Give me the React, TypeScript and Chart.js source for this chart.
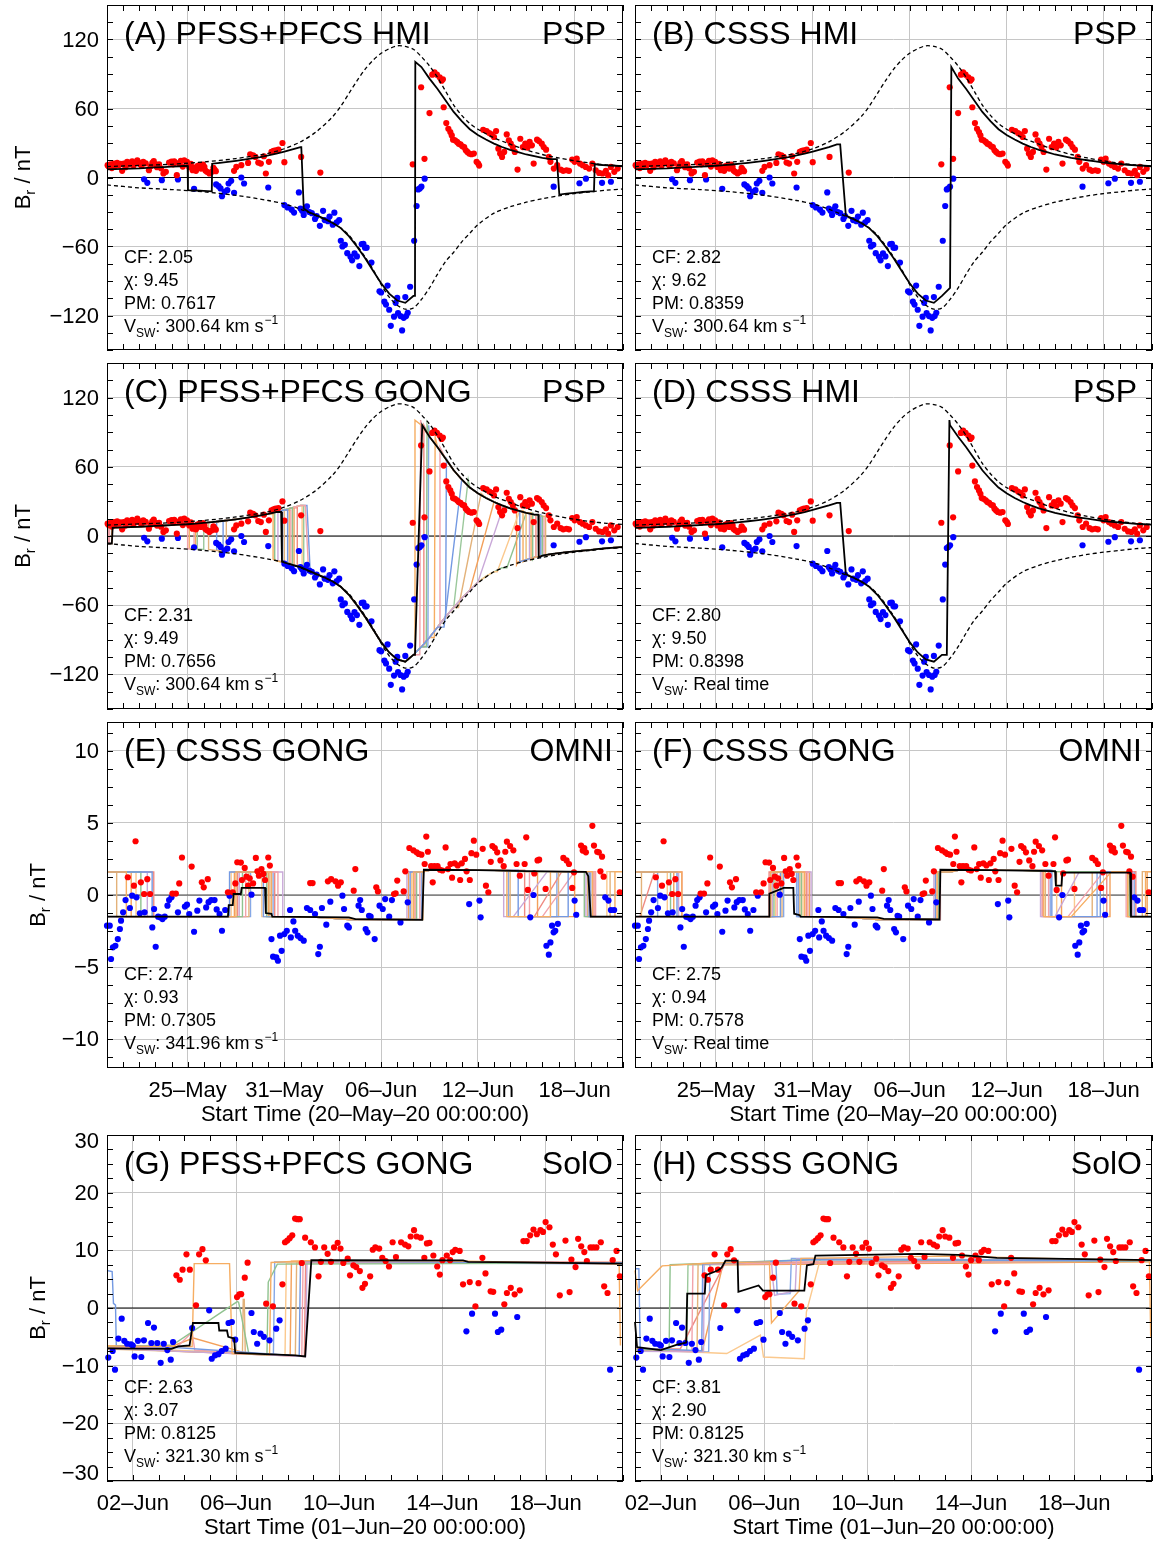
import React, { useEffect, useRef } from "react";
import { Chart, registerables } from "chart.js";

Chart.register(...registerables);

const FONT = "'Liberation Sans', Arial, Helvetica, sans-serif";
const GRID = "#c6c6c6";

// ---------------- axis ticks / labels ----------------
const PSP_X_MAJOR = [5, 11, 17, 23, 29];
const PSP_X_LABELS = ["25–May", "31–May", "06–Jun", "12–Jun", "18–Jun"];
const PSP_X_TITLE = "Start Time (20–May–20 00:00:00)";
const PSP_Y_TICKS = [-120, -60, 0, 60, 120];
const PSP_Y_LABELS = ["−120", "−60", "0", "60", "120"];
const OMNI_Y_TICKS = [-10, -5, 0, 5, 10];
const OMNI_Y_LABELS = ["−10", "−5", "0", "5", "10"];
const SOLO_X_MAJOR = [1, 5, 9, 13, 17];
const SOLO_X_LABELS = ["02–Jun", "06–Jun", "10–Jun", "14–Jun", "18–Jun"];
const SOLO_X_TITLE = "Start Time (01–Jun–20 00:00:00)";
const SOLO_Y_TICKS = [-30, -20, -10, 0, 10, 20, 30];
const SOLO_Y_LABELS = ["−30", "−20", "−10", "0", "10", "20", "30"];

// ---------------- panel texts ----------------
const TITLES = ["(A) PFSS+PFCS HMI", "(B) CSSS HMI", "(C) PFSS+PFCS GONG", "(D) CSSS HMI", "(E) CSSS GONG", "(F) CSSS GONG", "(G) PFSS+PFCS GONG", "(H) CSSS GONG"];
const PROBES = ["PSP", "PSP", "PSP", "PSP", "OMNI", "OMNI", "SolO", "SolO"];
const STATS_CF = ["2.05", "2.82", "2.31", "2.80", "2.74", "2.75", "2.63", "3.81"];
const STATS_CHI = ["9.45", "9.62", "9.49", "9.50", "0.93", "0.94", "3.07", "2.90"];
const STATS_PM = ["0.7617", "0.8359", "0.7656", "0.8398", "0.7305", "0.7578", "0.8125", "0.8125"];
const STATS_VSW = ["300.64", "300.64", "300.64", "Real time", "341.96", "Real time", "321.30", "321.30"];

// ---------------- PSP (panels A-D) ----------------
const PSP_ENV_DAYS = [0, 2, 4, 6, 8, 10, 11, 12, 13, 14, 14.5, 15, 15.5, 16, 16.5, 17, 17.5, 18, 18.5, 19, 19.5, 20, 20.5, 21, 21.5, 22, 22.5, 23, 24, 25, 26, 27, 28, 29, 30, 31, 32];
const PSP_ENV_UP = [9.5, 10.5, 11.5, 13.5, 16.5, 21, 25, 31, 40, 53, 62, 73, 84, 94, 102, 108, 112, 114.5, 114, 111.5, 105, 97, 87, 75, 63, 54, 47, 42, 34.5, 29, 24, 20, 17, 14.5, 12.5, 11, 10];
const PSP_ENV_DN = [-6.5, -9, -10.5, -12.5, -15.5, -20, -23, -27.5, -33.5, -39.5, -44, -50, -59, -69, -80, -93, -104, -111, -114.5, -113.5, -106, -96, -84, -73, -65, -56, -48.5, -41, -31, -25.5, -21.5, -18.5, -16, -14, -12.5, -11, -10];

const PSP_MODEL_DAYS = [0, 0.5, 1, 1.5, 2, 2.5, 3, 3.5, 4, 4.5, 5, 5.5, 6, 6.5, 7, 7.5, 8, 8.5, 9, 9.5, 10, 10.5, 11, 11.5, 12, 12.5, 13, 13.5, 14, 14.5, 15, 15.5, 16, 16.5, 17, 17.5, 18, 18.5, 19, 19.5, 20, 20.5, 21, 21.5, 22, 22.5, 23, 23.5, 24, 24.5, 25, 25.5, 26, 26.5, 27, 27.5, 28, 28.5, 29, 29.5, 30, 30.5, 31, 31.5, 32];
const PSP_MODEL_POS = [7, 7.2, 7.5, 7.8, 8, 8.4, 8.8, 9.1, 9.5, 9.8, 10.2, 10.7, 11.3, 12, 12.8, 13.6, 14.5, 15.5, 16.6, 17.8, 19.2, 20.8, 22.6, 24.5, 26.5, 28.8, 31.5, 35, 40, 46, 53, 61, 70, 79, 87, 94, 99, 101, 100.5, 96, 86, 77, 67, 57, 49, 42, 37, 33, 29.5, 26.5, 24, 22, 20, 18.5, 17, 16, 15, 14, 13, 12.3, 11.7, 11.1, 10.6, 10.2, 9.8];
const PSP_MODEL_NEG = [-6.5, -7, -7.5, -8, -8.5, -9, -9.5, -10, -10.3, -10.6, -11, -11.3, -11.6, -12, -13, -14, -15, -16, -17, -18.5, -20, -21.5, -23, -25, -27, -30, -33, -36, -39.5, -44, -51, -60, -70, -81, -92, -101, -107, -109, -103, -96, -88, -79, -70, -62, -54, -47, -40, -35, -31, -27.5, -25, -22.5, -20.5, -18.5, -17, -15.8, -14.8, -14, -13.3, -12.6, -12, -11.2, -10.6, -10, -9.5];

// polarity switches: [startDay, endDay, newSign]
const BLACK_A_START = 1;
const BLACK_A_SW = [[5.0, 5.02, -1], [6.5, 6.52, 1], [12.05, 12.2, -1], [19.1, 19.12, 1], [27.9, 28.05, -1], [30.2, 30.25, 1]];
const BLACK_B_START = 1;
const BLACK_B_SW = [[12.7, 13.05, -1], [19.5, 19.58, 1]];
const BLACK_C_START = -1;
const BLACK_C_SW = [[0.3, 0.35, 1], [10.8, 10.85, -1], [19.1, 19.55, 1], [26.75, 26.77, -1]];
const BLACK_D_START = 1;
const BLACK_D_SW = [[12.7, 13.05, -1], [19.3, 19.46, 1]];

const ENS_C_START = [1, 1, 1, -1, 1, 1, 1, 1, 1, -1, 1, 1, 1, 1, -1];
const ENS_C_SW = [
  [[10.3, 10.3, -1], [19.05, 19.1, 1], [26.3, 26.3, -1]],
  [[11.2, 11.2, -1], [20.9, 22.0, 1], [25.6, 25.6, -1]],
  [[11.5, 11.5, -1], [19.8, 19.85, 1], [27.0, 27.0, -1]],
  [[0.15, 0.15, 1], [5.0, 5.0, -1], [5.4, 5.4, 1], [12.3, 12.5, -1], [19.4, 19.45, 1], [26.8, 26.8, -1]],
  [[10.6, 10.6, -1], [23.0, 24.6, 1], [26.2, 26.2, -1]],
  [[6.3, 6.3, -1], [7.4, 7.4, 1], [11.0, 11.0, -1], [21.8, 23.2, 1], [27.2, 27.2, -1]],
  [[12.1, 12.1, -1], [24.2, 25.6, 1], [26.0, 26.0, -1]],
  [[11.8, 11.8, -1], [19.6, 19.65, 1], [26.6, 26.6, -1]],
  [[10.9, 10.9, -1], [19.9, 19.95, 1], [27.0, 27.0, -1]],
  [[0.3, 0.3, 1], [11.6, 11.6, -1], [22.5, 24.0, 1], [25.4, 25.4, -1]],
  [[5.6, 5.6, -1], [6.0, 6.0, 1], [12.2, 12.2, -1], [21.5, 22.4, 1], [26.0, 26.0, -1]],
  [[5.1, 5.1, -1], [5.5, 5.5, 1], [11.3, 11.3, -1], [20.3, 20.35, 1], [25.8, 25.8, -1]],
  [[6.8, 6.8, -1], [7.2, 7.2, 1], [12.4, 12.6, -1], [21.0, 21.05, 1], [26.9, 26.9, -1]],
  [[10.4, 10.4, -1], [24.8, 26.0, 1], [26.4, 26.4, -1]],
  [[0.1, 0.1, 1], [11.4, 11.4, -1], [20.6, 20.65, 1], [27.1, 27.1, -1]],
];

const PSP_RED = [
  [0.04, 10.7], [0.1, 9.5], [0.21, 11.5], [0.3, 8.2], [0.42, 12.1], [0.5, 10.0], [0.63, 12.7], [0.73, 10.7], [0.85, 11.8], [0.94, 5.8],
  [1.04, 12.1], [1.15, 9.0], [1.25, 13.6], [1.35, 12.8], [1.42, 11.5], [1.56, 14.1], [1.65, 10.5], [1.71, 12.7], [1.88, 15.0], [1.95, 13.2],
  [2.04, 11.5], [2.15, 10.3], [2.25, 13.6], [2.4, 12.3], [2.6, 6.3], [2.7, 9.8], [2.81, 12.7], [2.9, 14.2], [3.02, 11.5], [3.1, 9.0],
  [3.23, 11.5], [3.35, 8.0], [3.5, 3.5], [3.65, 4.9], [3.85, 13.0], [4.0, 13.8], [4.1, 11.5], [4.17, 14.1], [4.33, 2.0], [4.45, 12.5],
  [4.58, 14.4], [4.7, 9.5], [4.79, 15.0], [4.96, 13.6], [5.1, 9.2], [5.2, 11.8], [5.31, 6.3], [5.4, 8.4], [5.52, 5.8], [5.6, 9.9],
  [5.73, 10.7], [5.83, 7.8], [5.95, 11.2], [6.04, 9.2], [6.1, 6.0], [6.2, 4.9], [6.35, 3.5], [6.5, 4.9], [6.6, 8.4], [6.67, 6.9],
  [6.75, 5.5], [7.88, 5.8], [8.02, 9.2], [8.33, 10.7], [8.75, 12.7], [8.88, 20.2], [9.06, 19.3], [9.2, 17.9], [9.38, 13.0], [9.54, 12.1],
  [9.73, 18.5], [9.85, 3.5], [10.04, 13.6], [10.2, 22.2], [10.33, 23.1], [10.46, 23.7], [10.63, 24.2], [10.88, 30.0], [11.0, 13.3], [12.04, 17.9],
  [13.23, 4.3], [18.96, 11.5], [19.48, 78.5], [19.69, 16.2], [20.0, 56.0], [20.17, 89.4], [20.31, 91.4], [20.46, 89.4], [20.63, 87.1], [20.75, 84.2],
  [20.83, 85.4], [20.88, 61.1], [21.04, 47.3], [21.17, 42.4], [21.29, 39.5], [21.38, 36.6], [21.46, 32.9], [21.58, 32.3], [21.71, 30.9], [21.81, 29.4],
  [21.92, 28.8], [22.04, 27.1], [22.15, 26.5], [22.25, 23.7], [22.35, 22.2], [22.46, 20.8], [22.6, 20.2], [22.75, 20.8], [22.92, 13.6], [23.02, 12.1],
  [23.08, 10.4], [23.33, 41.5], [23.54, 40.4], [23.71, 38.6], [23.85, 37.5], [24.0, 35.2], [24.13, 40.4], [24.27, 25.1], [24.38, 20.8], [24.5, 17.9],
  [24.63, 22.2], [24.79, 37.5], [24.92, 32.3], [25.04, 29.4], [25.17, 26.5], [25.29, 22.2], [25.46, 6.9], [25.63, 33.7], [25.79, 26.5], [25.94, 29.4],
  [26.08, 26.0], [26.21, 30.9], [26.35, 28.0], [26.46, 12.1], [26.67, 32.9], [26.79, 31.7], [26.96, 29.4], [27.08, 26.5], [27.23, 24.2], [27.4, 17.9],
  [27.5, 13.6], [27.71, 7.8], [27.92, 10.7], [28.13, 6.9], [28.29, 5.8], [28.5, 6.3], [28.65, 5.8], [28.85, 15.6], [29.0, 13.6], [29.13, 16.4],
  [29.33, 12.1], [29.5, 10.7], [29.69, 9.2], [29.9, 7.8], [30.1, 12.1], [30.31, 6.3], [30.52, 4.0], [30.73, 3.5], [30.94, 5.8], [31.08, 2.0],
  [31.25, 9.2], [31.46, 4.9], [31.67, 7.8],
];
const PSP_BLUE = [
  [2.3, -1.5], [2.5, -4.6], [3.4, -2.3], [4.4, -1.7], [5.4, -9.8], [6.77, -6.0], [6.92, -7.5], [7.04, -9.5], [7.13, -16.2], [7.3, -12.4],
  [7.46, -11.0], [7.54, -5.2], [7.7, -2.9], [7.88, -13.3], [8.33, 0.0], [8.5, -5.2], [10.0, -8.7], [11.0, -24], [11.2, -26], [11.45, -28],
  [11.6, -30.5], [11.9, -13], [12.0, -27], [12.1, -29], [12.2, -32.5], [12.3, -28], [12.4, -25], [12.55, -30], [12.7, -31], [12.9, -36],
  [13.0, -33.5], [13.2, -42], [13.4, -29], [13.5, -37], [13.7, -38], [13.8, -34], [14.0, -41], [14.1, -30.6], [14.25, -39], [14.4, -37],
  [14.5, -55], [14.6, -60], [14.75, -58.5], [14.9, -65.8], [15.1, -69], [15.2, -72], [15.35, -66], [15.5, -68.6], [15.65, -77], [15.8, -58],
  [15.9, -57.7], [16.0, -61], [16.1, -61], [16.4, -74], [16.9, -99], [17.0, -100], [17.2, -108], [17.3, -110.5], [17.4, -94], [17.5, -115],
  [17.6, -129], [17.8, -121], [17.9, -109], [18.0, -104.7], [18.05, -118], [18.2, -120.5], [18.3, -133], [18.4, -122], [18.5, -104], [18.55, -120.5],
  [18.65, -117.7], [18.8, -95], [19.05, -55], [19.2, -24.8], [19.3, -10.4], [19.4, -9.5], [19.5, -8], [19.7, -1], [27.7, -8], [29.3, -5],
  [29.7, -1], [30.7, -4.6], [31.25, -3.7],
];

// ---------------- OMNI (panels E-F) ----------------
const OMNI_LEVEL_DAYS = [0, 13, 14, 15, 19.5, 20, 24, 26, 32];
const OMNI_LEVEL_POS = [1.6, 1.6, 1.6, 1.6, 1.6, 1.72, 1.72, 1.62, 1.62];
const OMNI_LEVEL_NEG = [-1.5, -1.55, -1.62, -1.7, -1.7, -1.5, -1.5, -1.5, -1.5];

const BLACK_E = [[0, -1.5], [7.5, -1.5], [7.55, -0.7], [7.8, -0.7], [7.85, 0.07], [8.3, 0.07], [8.35, 0.5], [9.8, 0.5], [9.85, -1.25], [10.2, -1.3], [10.25, -1.5], [15, -1.55], [15.4, -1.68], [19.55, -1.72], [19.65, 1.75], [23, 1.72], [26, 1.65], [29.7, 1.6], [29.85, 1.3], [30.0, -1.5], [32, -1.5]];
const BLACK_F = [[0, -1.5], [8.3, -1.5], [8.32, 0.1], [9.2, 0.5], [9.8, 0.5], [9.85, -1.3], [10.2, -1.4], [10.25, -1.5], [15, -1.55], [15.4, -1.65], [18.85, -1.7], [18.9, 1.75], [22, 1.72], [26.0, 1.65], [26.05, 0.65], [26.4, 0.65], [26.45, 1.55], [30.65, 1.55], [30.7, -1.5], [32, -1.5]];

const ENS_E_START = [1, 1, 1, -1, 1, 1, 1, 1, -1, 1];
const ENS_E_SW = [
  [[1.2, 1.2, -1], [8.0, 8.0, 1], [10.2, 10.2, -1], [19.0, 19.0, 1], [24.8, 24.8, -1], [27.5, 27.5, 1], [30.1, 30.1, -1], [31.5, 31.5, 1]],
  [[2.8, 2.8, -1], [7.6, 7.6, 1], [9.7, 9.7, -1], [18.8, 18.8, 1], [25.5, 25.5, -1], [28.6, 28.6, 1], [29.9, 29.9, -1]],
  [[2.1, 2.1, -1], [8.4, 8.4, 1], [9.9, 9.9, -1], [19.2, 19.2, 1], [29.6, 29.6, -1]],
  [[8.6, 8.6, 1], [10.6, 10.6, -1], [19.4, 19.4, 1], [26.2, 26.2, -1], [27.0, 29.0, 1], [30.3, 30.3, -1]],
  [[2.5, 2.5, -1], [8.2, 8.2, 1], [10.9, 10.9, -1], [18.6, 18.6, 1], [24.6, 24.6, -1], [25.2, 27.3, 1], [29.7, 29.7, -1]],
  [[0.6, 0.6, -1], [8.8, 8.8, 1], [10.1, 10.1, -1], [19.6, 19.6, 1], [25.0, 25.0, -1], [28.0, 28.0, 1], [29.8, 29.8, -1], [31.2, 31.2, 1]],
  [[1.8, 1.8, -1], [7.7, 7.7, 1], [9.6, 9.6, -1], [18.9, 18.9, 1], [29.9, 29.9, -1], [31.0, 31.0, 1]],
  [[2.9, 2.9, -1], [8.1, 8.1, 1], [10.4, 10.4, -1], [19.1, 19.1, 1], [25.9, 25.9, -1], [26.5, 28.2, 1], [30.2, 30.2, -1]],
  [[8.9, 8.9, 1], [10.3, 10.3, -1], [19.5, 19.5, 1], [24.9, 24.9, -1], [27.9, 27.9, 1], [30.0, 30.0, -1]],
  [[1.5, 1.5, -1], [7.9, 7.9, 1], [10.0, 10.0, -1], [18.7, 18.7, 1], [26.7, 26.7, -1], [29.0, 29.0, 1], [29.95, 29.95, -1]],
];
const ENS_F_START = [1, 1, 1, -1, 1, 1, 1, -1, 1, 1];
const ENS_F_SW = [
  [[2.9, 2.9, -1], [8.4, 8.4, 1], [10.5, 10.5, -1], [18.7, 18.7, 1], [25.3, 25.3, -1], [27.0, 29.5, 1], [30.5, 30.5, -1], [31.6, 31.6, 1]],
  [[2.6, 2.6, -1], [9.0, 9.0, 1], [10.1, 10.1, -1], [18.6, 18.6, 1], [25.8, 25.8, -1], [28.8, 28.8, 1], [30.7, 30.7, -1]],
  [[2.2, 2.2, -1], [8.6, 8.6, 1], [10.3, 10.3, -1], [18.8, 18.8, 1], [30.6, 30.6, -1]],
  [[8.8, 8.8, 1], [10.7, 10.7, -1], [18.9, 18.9, 1], [25.6, 25.6, -1], [26.8, 29.0, 1], [30.4, 30.4, -1]],
  [[2.7, 2.7, -1], [8.5, 8.5, 1], [10.9, 10.9, -1], [18.5, 18.5, 1], [25.1, 25.1, -1], [26.0, 27.5, 1], [30.8, 30.8, -1]],
  [[0.4, 0.4, -1], [9.1, 9.1, 1], [10.2, 10.2, -1], [18.9, 18.9, 1], [25.4, 25.4, -1], [28.3, 28.3, 1], [30.6, 30.6, -1], [31.4, 31.4, 1]],
  [[2.0, 2.0, -1], [8.7, 8.7, 1], [10.4, 10.4, -1], [18.7, 18.7, 1], [26.1, 26.1, -1], [27.2, 27.2, 1], [30.5, 30.5, -1]],
  [[0.3, 1.2, 1], [2.9, 2.9, -1], [8.3, 8.3, 1], [10.6, 10.6, -1], [18.8, 18.8, 1], [25.2, 25.2, -1], [29.2, 29.2, 1], [31.0, 31.0, -1]],
  [[1.4, 1.4, -1], [9.2, 9.2, 1], [10.0, 10.0, -1], [18.9, 18.9, 1], [25.7, 25.7, -1], [28.6, 28.6, 1], [30.9, 30.9, -1]],
  [[2.4, 2.4, -1], [8.5, 8.5, 1], [10.8, 10.8, -1], [18.6, 18.6, 1], [26.4, 26.4, -1], [29.4, 29.4, 1], [30.7, 30.7, -1], [31.7, 31.7, 1]],
];

const OMNI_RED = [
  [1.29, 1.23], [1.67, 0.65], [1.77, 3.73], [2.1, 0.88], [2.3, 0.07], [2.5, 1.1], [2.67, 0.07], [4.06, 0.1], [4.27, 0.1], [4.48, 0.8],
  [4.65, 2.6], [5.25, 1.97], [5.88, 0.88], [6.0, 0.53], [6.25, 1.1], [7.5, 0.19], [7.8, 0.19], [7.96, 0.8], [8.08, 2.27], [8.3, 2.25],
  [8.37, 1.04], [8.54, 1.88], [8.65, 1.27], [8.75, 0.65], [8.85, 1.16], [9.06, 0.8], [9.23, 2.57], [9.33, 1.64], [9.42, 1.34], [9.58, 1.8],
  [9.7, 1.46], [9.8, 1.04], [10.0, 2.6], [10.1, 2.04], [12.6, 0.83], [12.75, 0.83], [13.7, 0.95], [13.9, 1.1], [14.17, 0.95], [14.33, 0.65],
  [14.5, 0.88], [15.3, 0.3], [15.4, 1.8], [16.7, 0.53], [16.8, 0.25], [17.8, 0.07], [17.9, 0.12], [18.0, 1.0], [18.4, 0.25], [18.5, 1.64],
  [18.75, 3.26], [19.0, 3.1], [19.2, 2.96], [19.33, 2.85], [19.5, 2.8], [19.7, 2.15], [19.8, 4.05], [19.9, 3.0], [20.1, 2.0], [20.2, 0.88],
  [20.3, 2.0], [20.5, 2.0], [20.65, 1.75], [20.8, 1.7], [21.0, 3.3], [21.15, 1.8], [21.3, 2.15], [21.4, 1.2], [21.56, 2.2], [21.75, 2.05],
  [21.9, 1.04], [22.0, 2.2], [22.2, 2.5], [22.3, 1.64], [22.5, 1.04], [22.6, 2.9], [22.75, 3.77], [22.9, 2.8], [23.3, 3.2], [23.5, 0.65],
  [23.65, 0.19], [23.8, 2.3], [23.9, 3.4], [24.05, 3.26], [24.2, 2.96], [24.4, 2.4], [24.6, 2.0], [24.7, 3.0], [24.8, 3.7], [25.0, 3.4],
  [25.2, 3.1], [25.4, 2.15], [25.6, 1.34], [25.9, 2.15], [26.0, 4.0], [26.1, 0.35], [26.5, 1.5], [26.7, 2.4], [26.8, 2.45], [27.2, 0.42],
  [28.3, 2.57], [28.5, 2.4], [28.65, 2.15], [28.85, 0.49], [28.96, 1.57], [29.4, 3.43], [29.5, 3.08], [29.6, 3.26], [29.7, 2.96], [30.1, 4.8],
  [30.2, 3.43], [30.4, 3.0], [30.5, 2.96], [30.6, 1.64], [30.7, 2.66], [30.8, 1.27], [31.8, 0.19],
];
const OMNI_BLUE = [
  [0, -2.13], [0.17, -2.13], [0.25, -4.44], [0.37, -3.63], [0.52, -3.52], [0.67, -3.06], [0.8, -2.36], [0.87, -1.78], [1.0, -1.2], [1.15, -0.35],
  [1.42, -0.9], [1.56, -0.05], [1.83, -0.16], [2.04, -1.27], [2.33, -1.2], [2.81, -2.25], [2.92, -0.97], [3.02, -3.59], [3.17, -1.5], [3.3, -1.55],
  [3.44, -1.67], [3.58, -1.5], [3.75, -0.74], [3.85, -0.35], [4.0, -0.16], [4.4, -1.2], [4.83, -0.8], [4.96, -0.67], [5.1, -1.32], [5.4, -2.55],
  [5.6, -1.09], [5.73, -0.39], [6.15, -0.86], [6.3, -0.5], [6.46, -0.35], [6.67, -0.35], [6.8, -1.0], [6.98, -1.32], [7.13, -2.48], [7.33, -1.04],
  [7.6, -0.05], [8.96, 0.02], [10.2, -3.06], [10.3, -4.28], [10.5, -4.33], [10.6, -4.56], [10.73, -2.82], [10.83, -3.87], [11.0, -2.71], [11.15, -2.48],
  [11.35, -1.04], [11.4, -2.94], [11.56, -1.83], [11.67, -2.48], [11.83, -2.82], [12.0, -2.99], [12.2, -3.17], [12.4, -0.9], [12.6, -1.04], [12.9, -1.32],
  [13.1, -4.1], [13.2, -3.59], [13.33, -0.9], [13.6, -2.06], [13.85, -0.46], [14.6, -0.05], [14.7, -0.97], [14.9, -2.13], [15.0, -2.25], [15.6, -0.74],
  [15.7, -0.35], [15.8, -1.04], [16.04, -2.36], [16.15, -2.59], [16.25, -1.44], [16.35, -1.5], [16.6, -3.06], [16.9, -0.74], [17.1, -0.97], [17.25, -0.28],
  [17.5, -1.5], [17.67, -0.35], [18.2, -1.9], [18.65, -0.51], [22.46, -0.63], [23.1, -0.39], [23.17, -1.55], [26.25, -1.55], [26.45, 0.0], [27.25, -3.52],
  [27.4, -4.14], [27.5, -3.29], [27.6, -2.13], [27.7, -2.59], [27.8, -2.48], [27.96, -2.0], [29.0, -0.39], [29.1, -1.37], [30.9, -0.16], [31.1, -0.39],
  [31.25, -1.04], [31.45, -1.04],
];

// ---------------- SolO (panels G-H) ----------------
const BLACK_G = [[0, -7], [2.5, -7.1], [2.76, -6.65], [3.2, -6.5], [3.33, -2.6], [4.32, -2.6], [4.35, -3.9], [4.65, -3.9], [4.7, -5.0], [4.93, -5.3], [4.97, -7.8], [7.3, -8.2], [7.68, -8.4], [7.92, 8.3], [13.8, 8.25], [14.0, 8.0], [16, 7.9], [20, 7.7]];
const BLACK_H = [[0, -2.4], [0.08, -6.8], [1.0, -7.3], [1.6, -6.4], [1.98, -6.0], [2.02, 2.5], [2.7, 2.5], [2.74, 5.7], [3.2, 6.5], [3.35, 7.0], [3.5, 8.2], [3.97, 8.2], [4.0, 2.8], [4.78, 3.9], [4.95, 3.0], [6.55, 3.0], [6.65, 7.4], [6.9, 7.6], [6.98, 9.1], [11, 9.4], [12.5, 9.2], [14, 8.7], [20, 8.3]];

const ENS_G = [
  [[0, -6.6], [3.3, -6.7], [3.38, 7.7], [4.75, 7.7], [4.85, -7.9], [6.3, -8.1], [6.36, 7.9], [7.8, 8.2], [13, 8.2], [19.85, 7.6], [19.9, -6.5]],
  [[0, 6.5], [0.2, 6.3], [0.25, 0.8], [0.33, 0.5], [0.36, -6.5], [2.5, -6.8], [7.45, -8.3], [7.5, 8.1], [20, 7.8]],
  [[0, -6.7], [2.55, -6.4], [5.05, 1.1], [5.1, 1.0], [5.5, -8.0], [6.2, -8.1], [6.25, 4.5], [6.6, 7.6], [20, 7.8]],
  [[0, -6.9], [2.7, -6.8], [3.3, -4.2], [3.4, -7.3], [7.55, -8.3], [7.6, 8.0], [20, 7.9]],
  [[0, -7.0], [7.7, -8.4], [7.75, 7.9], [20, 7.8]],
  [[0, -7.1], [5.25, -7.9], [5.28, 1.5], [5.32, 1.5], [5.36, -8.0], [7.3, -8.3], [7.35, 8.0], [20, 7.7]],
  [[0, -6.8], [6.9, -8.2], [6.95, 7.8], [20, 7.8]],
  [[0, -7.0], [7.65, -8.4], [7.7, 8.1], [20, 7.9]],
  [[0, -6.9], [6.45, -8.1], [6.5, 8.0], [20, 7.6]],
  [[0, -6.6], [2.6, -6.5], [3.35, -5.2], [5.45, -7.9], [7.1, -8.2], [7.15, 8.1], [20, 7.9]],
];
const ENS_H = [
  [[0, 6.5], [0.1, 3.0], [1.05, 7.3], [3, 7.8], [5.2, 8.0], [5.28, -2.6], [6.35, 3.0], [6.42, 8.6], [12, 9.0], [19.9, 8.2], [19.95, -5.0]],
  [[0, 6.8], [0.15, 6.8], [0.2, -7.0], [2.58, -7.4], [2.62, 7.6], [7, 8.4], [20, 8.2]],
  [[0, -7.2], [1.32, -7.3], [1.36, 7.5], [7, 8.4], [20, 8.1]],
  [[0, -7.3], [2.2, -7.4], [2.24, 7.6], [20, 8.2]],
  [[0, -7.5], [2.65, -7.6], [2.68, 7.6], [5.28, 7.9], [5.33, 5.0], [5.4, 2.2], [6.2, 3.0], [6.25, 8.5], [20, 8.1]],
  [[0, -7.3], [2.4, -7.5], [2.44, 7.6], [20, 8.2]],
  [[0, -7.2], [3.55, -7.9], [4.85, -4.7], [4.97, -8.5], [6.55, -8.8], [6.63, -0.7], [7.17, 8.5], [20, 8.0]],
  [[0, -7.0], [1.75, -7.1], [3.5, 7.9], [20, 8.3]],
  [[0, -7.4], [2.85, -7.6], [2.9, 7.7], [5.45, 8.0], [5.5, 2.4], [6.0, 2.5], [6.05, 8.6], [20, 8.2]],
  [[0, -7.3], [2.6, -7.5], [3.4, 7.5], [20, 8.0]],
  [[0, -7.4], [2.0, -7.5], [2.05, 7.5], [20, 8.1]],
];

const SOLO_RED = [
  [2.69, 5.66], [2.82, 4.9], [2.93, 6.65], [3.08, 9.3], [3.21, 6.65], [3.45, 0.46], [3.57, 9.3], [3.7, 10.2], [3.83, 8.27], [5.04, 1.9],
  [5.13, 2.37], [5.2, 2.4], [5.34, 5.26], [5.45, 7.86], [6.17, 0.75], [6.43, 0.29], [6.8, 4.1], [6.9, 11.4], [6.99, 11.7], [7.08, 12.1],
  [7.18, 12.6], [7.29, 15.5], [7.38, 15.4], [7.47, 15.4], [7.55, 7.8], [7.68, 12.2], [7.9, 11.4], [8.06, 10.5], [8.2, 5.5], [8.29, 8.0],
  [8.42, 10.5], [8.55, 9.4], [8.68, 8.0], [8.8, 10.5], [8.94, 11.3], [9.05, 10.3], [9.16, 7.8], [9.33, 8.55], [9.42, 5.66], [9.55, 7.4],
  [9.66, 7.1], [9.8, 6.4], [9.9, 3.5], [10.0, 4.2], [10.2, 5.5], [10.3, 10.1], [10.4, 10.5], [10.55, 10.3], [10.67, 8.7], [10.8, 8.15],
  [10.93, 7.2], [11.07, 11.4], [11.2, 8.84], [11.4, 11.4], [11.55, 11.0], [11.68, 10.7], [11.77, 12.4], [11.9, 13.5], [12.0, 12.4], [12.16, 12.2],
  [12.3, 8.7], [12.4, 11.2], [12.5, 11.3], [12.65, 9.1], [12.8, 7.2], [12.9, 5.8], [13.0, 8.3], [13.17, 9.1], [13.3, 8.3], [13.4, 9.7],
  [13.5, 10.1], [13.67, 9.9], [13.8, 4.1], [14.06, 4.5], [14.28, 0.29], [14.4, 4.3], [14.55, 8.7], [14.67, 6.0], [14.87, 2.9], [14.97, 2.8],
  [15.4, 0.64], [15.5, 2.6], [15.65, 3.5], [15.8, 2.37], [16.0, 3.06], [16.14, 11.6], [16.27, 11.6], [16.4, 12.6], [16.53, 13.6], [16.66, 12.8],
  [16.8, 13.5], [16.9, 13.2], [17.0, 14.9], [17.15, 14.0], [17.28, 11.0], [17.4, 9.3], [17.55, 2.2], [17.77, 11.7], [17.93, 2.77], [18.0, 8.4],
  [18.16, 7.1], [18.26, 12.0], [18.38, 10.7], [18.5, 9.7], [18.6, 8.15], [18.74, 10.5], [18.85, 10.5], [18.97, 10.5], [19.14, 11.4], [19.27, 3.76],
  [19.4, 2.6], [19.6, 8.3], [19.75, 9.9], [19.88, 5.5],
];
const SOLO_BLUE = [
  [0.05, -8.6], [0.22, -7.46], [0.31, -10.7], [0.44, -5.3], [0.57, -1.85], [0.67, -5.7], [0.78, -6.2], [0.93, -6.3], [1.0, -6.5], [1.07, -8.4],
  [1.2, -5.7], [1.33, -8.5], [1.43, -5.6], [1.59, -2.6], [1.72, -6.07], [1.82, -3.4], [1.95, -6.07], [2.08, -9.5], [2.2, -6.2], [2.34, -7.3],
  [2.47, -8.96], [2.56, -5.9], [3.3, -3.47], [3.96, -0.4], [4.06, -8.8], [4.19, -8.2], [4.32, -8.0], [4.45, -7.46], [4.6, -7.05], [4.71, -2.6],
  [4.84, -2.43], [4.97, -5.5], [5.6, -0.87], [5.69, -4.16], [5.82, -6.2], [5.95, -4.45], [6.08, -5.0], [6.3, -5.6], [6.56, -3.58], [6.69, -2.14],
  [13.93, -4.05], [14.15, -0.98], [15.04, -0.98], [15.15, -4.16], [15.28, -3.76], [15.9, -1.56], [19.5, -10.7],
];

const ENS_COLORS = ["#f6ad62", "#7399e2", "#8fc28f", "#f2a3ab", "#c9a8d8", "#e3b27a", "#fbc98e", "#ef8a82", "#86a8e6", "#f3a05a", "#9bc89b"];

// ---------------- helpers ----------------
type Pt = { x: number; y: number };
const toPts = (arr: number[][]): Pt[] => arr.map(([x, y]) => ({ x, y }));
const zipPts = (xs: number[], ys: number[]): Pt[] => xs.map((x, i) => ({ x, y: ys[i] }));

function holdIndex(days: number[], d: number): number {
  let i = 0;
  while (i + 1 < days.length && days[i + 1] <= d) i++;
  return i;
}

function buildPolarity(days: number[], pos: number[], neg: number[], start: number, sw: number[][]): Pt[] {
  const amp = (d: number, s: number) => (s > 0 ? pos : neg)[holdIndex(days, d)];
  const pts: Pt[] = [];
  let sign = start;
  let from = -Infinity;
  for (const [a, b, s] of sw) {
    days.forEach((d) => { if (d > from && d < a) pts.push({ x: d, y: amp(d, sign) }); });
    pts.push({ x: a, y: amp(a, sign) });
    pts.push({ x: b, y: amp(b, s) });
    sign = s;
    from = b;
  }
  days.forEach((d) => { if (d > from) pts.push({ x: d, y: amp(d, sign) }); });
  return pts;
}
const pspModel = (start: number, sw: number[][]) => buildPolarity(PSP_MODEL_DAYS, PSP_MODEL_POS, PSP_MODEL_NEG, start, sw);
const omniModel = (start: number, sw: number[][]) => buildPolarity(OMNI_LEVEL_DAYS, OMNI_LEVEL_POS, OMNI_LEVEL_NEG, start, sw);

function lineDs(data: Pt[], color: string, width: number, order: number, dash: number[] = [], tension = 0) {
  return { data, showLine: true, borderColor: color, backgroundColor: color, borderWidth: width, borderDash: dash, pointRadius: 0, pointHoverRadius: 0, fill: false, tension, order, clip: 1 };
}
function dotDs(data: Pt[], color: string, order: number) {
  return { data, showLine: false, pointRadius: 3.1, pointHoverRadius: 3.1, pointBorderWidth: 0, pointBackgroundColor: color, pointBorderColor: color, backgroundColor: color, borderColor: color, order, clip: 4 };
}

// ---------------- geometry ----------------
const COLS = [
  { cx: 0, cw: 629, left: 107, right: 623 },
  { cx: 590, cw: 566, left: 635, right: 1152 },
];
const ROWS = [
  { cy: 0, ch: 357, top: 5, bottom: 350 },
  { cy: 357, ch: 359, top: 363, bottom: 709 },
  { cy: 716, ch: 414, top: 722, bottom: 1068 },
  { cy: 1130, ch: 413, top: 1135, bottom: 1481 },
];

type Axis = {
  xMax: number; xMajor: number[]; xLabels: string[] | null; xTitle: string | null;
  yMin: number; yMax: number; yMajor: number[]; yLabels: string[]; yMinor: number;
  yTitleX: number;
};
const AX_PSP: Axis = { xMax: 32, xMajor: PSP_X_MAJOR, xLabels: null, xTitle: null, yMin: -150, yMax: 150, yMajor: PSP_Y_TICKS, yLabels: PSP_Y_LABELS, yMinor: 15, yTitleX: 22 };
const AX_OMNI: Axis = { xMax: 32, xMajor: PSP_X_MAJOR, xLabels: PSP_X_LABELS, xTitle: PSP_X_TITLE, yMin: -12, yMax: 12, yMajor: OMNI_Y_TICKS, yLabels: OMNI_Y_LABELS, yMinor: 1.25, yTitleX: 37 };
const AX_SOLO: Axis = { xMax: 20, xMajor: SOLO_X_MAJOR, xLabels: SOLO_X_LABELS, xTitle: SOLO_X_TITLE, yMin: -30, yMax: 30, yMajor: SOLO_Y_TICKS, yLabels: SOLO_Y_LABELS, yMinor: 2.5, yTitleX: 37 };

type PanelSpec = { idx: number; col: number; row: number; axis: Axis; probeOffset: number; make: () => any[] };

const ENS_W = 1.4;
function pspSets(black: Pt[], ens: Pt[][]) {
  return [
    lineDs(black, "#000", 1.8, 0),
    lineDs(zipPts(PSP_ENV_DAYS, PSP_ENV_UP), "#000", 1.3, 1, [4, 3], 0.3),
    lineDs(zipPts(PSP_ENV_DAYS, PSP_ENV_DN), "#000", 1.3, 1, [4, 3], 0.3),
    dotDs(toPts(PSP_RED), "#ff0000", 2),
    dotDs(toPts(PSP_BLUE), "#0000ff", 2),
    ...ens.map((e, i) => lineDs(e, ENS_COLORS[i % ENS_COLORS.length], ENS_W, 3)),
    lineDs([{ x: 0, y: 0 }, { x: 32, y: 0 }], "#000", 1, 4),
  ];
}
function omniSets(black: Pt[], ens: Pt[][]) {
  return [
    lineDs(black, "#000", 1.8, 0),
    dotDs(toPts(OMNI_RED), "#ff0000", 2),
    dotDs(toPts(OMNI_BLUE), "#0000ff", 2),
    ...ens.map((e, i) => lineDs(e, ENS_COLORS[i % ENS_COLORS.length], ENS_W, 3)),
    lineDs([{ x: 0, y: 0 }, { x: 32, y: 0 }], "#444", 1, 4),
  ];
}
function soloSets(black: Pt[], ens: Pt[][]) {
  return [
    lineDs(black, "#000", 1.8, 0),
    dotDs(toPts(SOLO_RED), "#ff0000", 2),
    dotDs(toPts(SOLO_BLUE), "#0000ff", 2),
    ...ens.map((e, i) => lineDs(e, ENS_COLORS[i % ENS_COLORS.length], ENS_W, 3)),
    lineDs([{ x: 0, y: 0 }, { x: 20, y: 0 }], "#000", 1, 4),
  ];
}

const PANELS: PanelSpec[] = [
  { idx: 0, col: 0, row: 0, axis: AX_PSP, probeOffset: 17, make: () => pspSets(pspModel(BLACK_A_START, BLACK_A_SW), []) },
  { idx: 1, col: 1, row: 0, axis: AX_PSP, probeOffset: 15, make: () => pspSets(pspModel(BLACK_B_START, BLACK_B_SW), []) },
  { idx: 2, col: 0, row: 1, axis: AX_PSP, probeOffset: 17, make: () => pspSets(pspModel(BLACK_C_START, BLACK_C_SW), ENS_C_SW.map((sw, i) => pspModel(ENS_C_START[i], sw))) },
  { idx: 3, col: 1, row: 1, axis: AX_PSP, probeOffset: 15, make: () => pspSets(pspModel(BLACK_D_START, BLACK_D_SW), []) },
  { idx: 4, col: 0, row: 2, axis: AX_OMNI, probeOffset: 10, make: () => omniSets(toPts(BLACK_E), ENS_E_SW.map((sw, i) => omniModel(ENS_E_START[i], sw))) },
  { idx: 5, col: 1, row: 2, axis: AX_OMNI, probeOffset: 10, make: () => omniSets(toPts(BLACK_F), ENS_F_SW.map((sw, i) => omniModel(ENS_F_START[i], sw))) },
  { idx: 6, col: 0, row: 3, axis: AX_SOLO, probeOffset: 10, make: () => soloSets(toPts(BLACK_G), ENS_G.map(toPts)) },
  { idx: 7, col: 1, row: 3, axis: AX_SOLO, probeOffset: 10, make: () => soloSets(toPts(BLACK_H), ENS_H.map(toPts)) },
];

function decorPlugin(spec: PanelSpec) {
  return {
    id: "decor",
    afterDraw(chart: any) {
      const ctx: CanvasRenderingContext2D = chart.ctx;
      const a = chart.chartArea;
      const xs = chart.scales.x;
      const ys = chart.scales.y;
      const ax = spec.axis;
      const showY = spec.col === 0;
      ctx.save();
      ctx.strokeStyle = "#000";
      ctx.lineWidth = 1;
      // ticks inward on all sides
      ctx.beginPath();
      for (let d = 0; d <= ax.xMax + 1e-9; d += 1) {
        const px = Math.round(xs.getPixelForValue(d)) + 0.5;
        ctx.moveTo(px, a.bottom); ctx.lineTo(px, a.bottom - 6);
        ctx.moveTo(px, a.top); ctx.lineTo(px, a.top + 6);
      }
      const y0 = Math.ceil(ax.yMin / ax.yMinor - 1e-9) * ax.yMinor;
      for (let v = y0; v <= ax.yMax + 1e-9; v += ax.yMinor) {
        const py = Math.round(ys.getPixelForValue(v)) + 0.5;
        ctx.moveTo(a.left, py); ctx.lineTo(a.left + 6, py);
        ctx.moveTo(a.right, py); ctx.lineTo(a.right - 6, py);
      }
      ctx.stroke();
      ctx.strokeRect(a.left + 0.5, a.top + 0.5, a.right - a.left - 1, a.bottom - a.top - 1);

      ctx.fillStyle = "#000";
      if (showY) {
        ctx.font = `22px ${FONT}`;
        ctx.textAlign = "right";
        ctx.textBaseline = "middle";
        ax.yMajor.forEach((v, i) => {
          let py = ys.getPixelForValue(v);
          py = Math.min(Math.max(py, a.top + 6), a.bottom - 8);
          ctx.fillText(ax.yLabels[i], a.left - 8, py + 1);
        });
        ctx.save();
        ctx.translate(ax.yTitleX, (a.top + a.bottom) / 2);
        ctx.rotate(-Math.PI / 2);
        ctx.textAlign = "left";
        ctx.textBaseline = "alphabetic";
        ctx.font = `22px ${FONT}`;
        const wB = ctx.measureText("B").width;
        const wRest = ctx.measureText(" / nT").width;
        ctx.font = `15px ${FONT}`;
        const wr = ctx.measureText("r").width;
        const x0 = -(wB + wr + wRest) / 2;
        ctx.font = `22px ${FONT}`;
        ctx.fillText("B", x0, 8);
        ctx.font = `15px ${FONT}`;
        ctx.fillText("r", x0 + wB, 13);
        ctx.font = `22px ${FONT}`;
        ctx.fillText(" / nT", x0 + wB + wr, 8);
        ctx.restore();
      }
      if (ax.xLabels) {
        ctx.font = `22px ${FONT}`;
        ctx.textAlign = "center";
        ctx.textBaseline = "middle";
        ax.xMajor.forEach((v, i) => ctx.fillText(ax.xLabels![i], xs.getPixelForValue(v), a.bottom + 23));
        if (ax.xTitle) ctx.fillText(ax.xTitle, (a.left + a.right) / 2, a.bottom + 47);
      }
      ctx.textBaseline = "alphabetic";
      ctx.font = `32px ${FONT}`;
      ctx.textAlign = "left";
      ctx.fillText(TITLES[spec.idx], a.left + 17, a.top + 39);
      ctx.textAlign = "right";
      ctx.fillText(PROBES[spec.idx], a.right - spec.probeOffset, a.top + 39);
      ctx.textAlign = "left";
      const lx = a.left + 17;
      ctx.font = `18px ${FONT}`;
      ctx.fillText(`CF: ${STATS_CF[spec.idx]}`, lx, a.top + 258);
      ctx.fillText(`χ: ${STATS_CHI[spec.idx]}`, lx, a.top + 281);
      ctx.fillText(`PM: ${STATS_PM[spec.idx]}`, lx, a.top + 304);
      const vy = a.top + 327;
      ctx.fillText("V", lx, vy);
      let cx = lx + ctx.measureText("V").width;
      ctx.font = `12px ${FONT}`;
      ctx.fillText("SW", cx, vy + 5);
      cx += ctx.measureText("SW").width;
      ctx.font = `18px ${FONT}`;
      const vsw = STATS_VSW[spec.idx];
      if (vsw === "Real time") {
        ctx.fillText(": Real time", cx, vy);
      } else {
        const txt = `: ${vsw} km s`;
        ctx.fillText(txt, cx, vy);
        cx += ctx.measureText(txt).width;
        ctx.font = `12px ${FONT}`;
        ctx.fillText("−1", cx + 1, vy - 8);
      }
      ctx.restore();
    },
  };
}

function PanelChart({ spec }: { spec: PanelSpec }) {
  const ref = useRef<HTMLCanvasElement | null>(null);
  const col = COLS[spec.col];
  const row = ROWS[spec.row];
  useEffect(() => {
    const ax = spec.axis;
    const chart = new Chart(ref.current as HTMLCanvasElement, {
      type: "scatter",
      data: { datasets: spec.make() as any },
      options: {
        responsive: false,
        animation: false,
        devicePixelRatio: 1,
        events: [],
        layout: {
          autoPadding: false,
          padding: { left: col.left - col.cx, right: col.cx + col.cw - col.right, top: row.top - row.cy, bottom: row.cy + row.ch - row.bottom },
        },
        plugins: { legend: { display: false }, tooltip: { enabled: false } },
        scales: {
          x: {
            type: "linear", position: "bottom", min: 0, max: ax.xMax,
            ticks: { display: false },
            grid: { color: GRID, lineWidth: 1, drawTicks: false },
            border: { display: false },
            afterBuildTicks: (s: any) => { s.ticks = ax.xMajor.map((v) => ({ value: v })); },
            afterFit: (s: any) => { s.height = 0; },
          },
          y: {
            type: "linear", position: "left", min: ax.yMin, max: ax.yMax,
            ticks: { display: false },
            grid: { color: GRID, lineWidth: 1, drawTicks: false },
            border: { display: false },
            afterBuildTicks: (s: any) => { s.ticks = ax.yMajor.map((v) => ({ value: v })); },
            afterFit: (s: any) => { s.width = 0; },
          },
        },
      } as any,
      plugins: [decorPlugin(spec)],
    });
    return () => chart.destroy();
  }, []);
  return (
    <canvas
      ref={ref}
      width={col.cw}
      height={row.ch}
      style={{ position: "absolute", left: col.cx, top: row.cy, width: col.cw, height: row.ch }}
    />
  );
}

export default function App() {
  return (
    <div style={{ position: "absolute", left: 0, top: 0, width: 1156, height: 1543, background: "#fff" }}>
      {PANELS.map((p) => (
        <PanelChart key={p.idx} spec={p} />
      ))}
    </div>
  );
}
